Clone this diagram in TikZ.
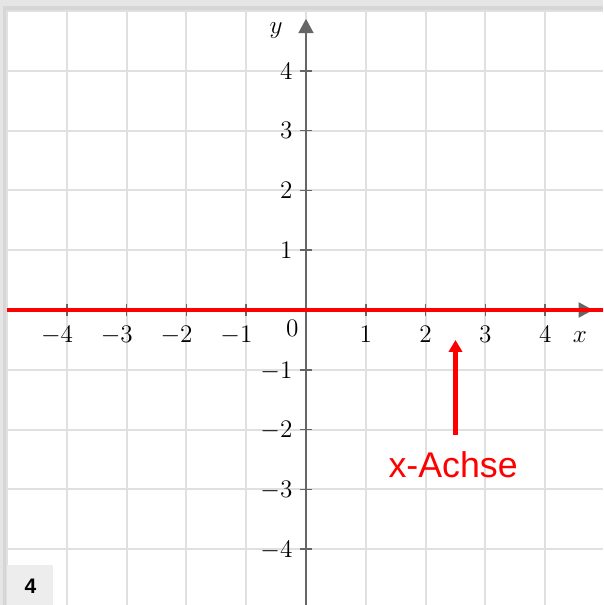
\documentclass[tikz,border=0pt]{standalone}
\usepackage{fontspec}
\newfontfamily\arialfont{Liberation Sans}
\usetikzlibrary{arrows.meta, positioning}

\begin{document}
\begin{tikzpicture}[
    % Define styles
    gridline/.style={
        draw=black!12,
        line width=1pt
    },
    axis/.style={
        draw=black!60,
        line width=1pt,
        -{Triangle[length=0.24cm, width=0.25cm]}
    },
    tickmark/.style={
        draw=black!60,
        line width=0.8pt
    },
    xlabel/.style={
        anchor=base,
        inner sep=0pt,
        font=\large
    },
    ylabel/.style={
        anchor=base east,
        inner sep=0pt,
        font=\large
    },
    redaxis/.style={
        draw=red,
        line width=2pt
    },
    redarrow/.style={
        draw=red,
        line width=2pt,
        -{Triangle[length=0.2cm, width=0.22cm]}
    },
    annot/.style={
        text=red,
        inner sep=0pt,
        font=\arialfont\fontsize{17}{20}\selectfont
    },
    numbox/.style={
        fill=black!7,
        inner sep=0pt,
        anchor=north west,
        minimum width=0.77cm,
        minimum height=0.7cm,
        font=\arialfont\bfseries\fontsize{10}{12}\selectfont
    }
]

% ============================================================
% Page frame and shadow
% ============================================================
\useasboundingbox (-5.117,-4.933) rectangle (4.967,5.184);
\fill[black!10] (-5.117,-4.933) rectangle (4.967,5.184);
\fill[black!16] (-5.06,-4.933) rectangle (4.967,5.08);
\fill[white] (-5,-4.933) rectangle (4.967,5);

% ============================================================
% Grid
% ============================================================
\draw[gridline] (-5,-4.933) grid (4.967,5);

% ============================================================
% Axes
% ============================================================
\coordinate (x start) at (-5,0);
\coordinate (x end) at (4.8,0);
\coordinate (y start) at (0,-4.933);
\coordinate (y end) at (0,4.87);

\draw[axis] (x start) -- (x end);
\draw[axis] (y start) -- (y end);

% Ticks on the x-axis
\draw[tickmark] (-4,-0.1) -- (-4,0.1) (-3,-0.1) -- (-3,0.1)
    (-2,-0.1) -- (-2,0.1) (-1,-0.1) -- (-1,0.1)
    (1,-0.1) -- (1,0.1) (2,-0.1) -- (2,0.1)
    (3,-0.1) -- (3,0.1) (4,-0.1) -- (4,0.1);

% Ticks on the y-axis
\draw[tickmark] (-0.1,-4) -- (0.1,-4) (-0.1,-3) -- (0.1,-3)
    (-0.1,-2) -- (0.1,-2) (-0.1,-1) -- (0.1,-1)
    (-0.1,1) -- (0.1,1) (-0.1,2) -- (0.1,2)
    (-0.1,3) -- (0.1,3) (-0.1,4) -- (0.1,4);

% x-axis numbers
\node[xlabel] (xm4) at (-4,-0.55) {$\llap{$-$}4$};
\node[xlabel] (xm3) at (-3,-0.55) {$\llap{$-$}3$};
\node[xlabel] (xm2) at (-2,-0.55) {$\llap{$-$}2$};
\node[xlabel] (xm1) at (-1,-0.55) {$\llap{$-$}1$};
\node[xlabel] (xp1) at (1,-0.55) {$1$};
\node[xlabel] (xp2) at (2,-0.55) {$2$};
\node[xlabel] (xp3) at (3,-0.55) {$3$};
\node[xlabel] (xp4) at (4,-0.55) {$4$};

% y-axis numbers
\node[ylabel] (yp4) at (-0.22,3.86) {$4$};
\node[ylabel] (yp3) at (-0.22,2.86) {$3$};
\node[ylabel] (yp2) at (-0.22,1.86) {$2$};
\node[ylabel] (yp1) at (-0.22,0.86) {$1$};
\node[ylabel] (ym1) at (-0.22,-1.14) {$-1$};
\node[ylabel] (ym2) at (-0.22,-2.14) {$-2$};
\node[ylabel] (ym3) at (-0.22,-3.14) {$-3$};
\node[ylabel] (ym4) at (-0.22,-4.14) {$-4$};

% Origin and axis names
\node[ylabel] (origin) at (-0.12,-0.45) {$0$};
\node[font=\large] (xname) at (4.58,-0.45) {$x$};
\node[font=\large] (yname) at (-0.5,4.67) {$y$};

% ============================================================
% Highlighted x-axis
% ============================================================
\coordinate (red start) at (-5,0);
\coordinate (red end) at (4.967,0);
\draw[redaxis] (red start) -- (red end);

\node[annot] (achse) at (2.46,-2.59) {x-Achse};
\coordinate (achse base) at (2.5,-2.09);
\coordinate (achse tip) at (2.5,-0.5);
\draw[redarrow] (achse base) -- (achse tip);

% ============================================================
% Exercise number
% ============================================================
\node[numbox] (number) at (-5,-4.26) {4};

\end{tikzpicture}
\end{document}
